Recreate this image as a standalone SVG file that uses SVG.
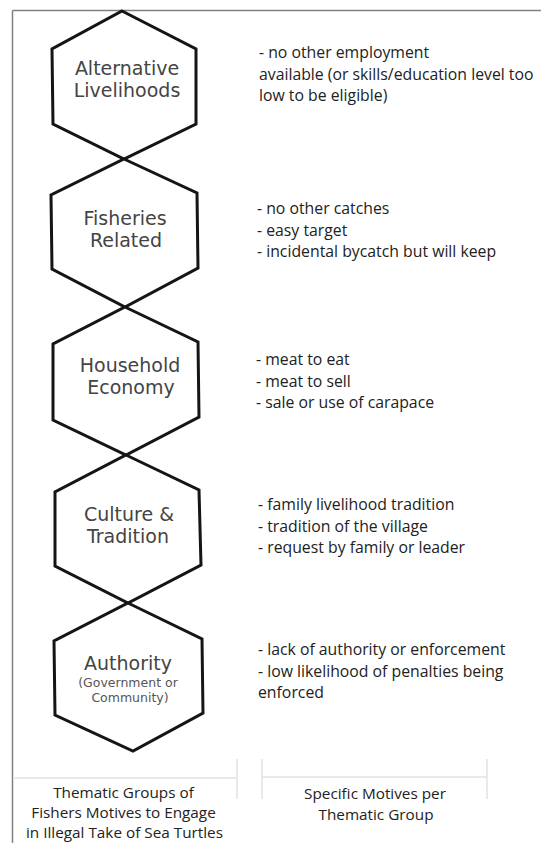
<svg xmlns="http://www.w3.org/2000/svg" width="541" height="843" viewBox="0 0 541 843">
<style>
.hex{fill:#fff;stroke:#151515;stroke-width:3;stroke-linejoin:miter}
.ht{font-family:"DejaVu Sans",sans-serif;font-size:19px;fill:#444;text-anchor:middle}
.hs{font-family:"DejaVu Sans",sans-serif;font-size:12.5px;fill:#555;text-anchor:middle}
.mt{font-family:"Open Sans","Liberation Sans",sans-serif;font-size:15.8px;fill:#222}
.bt{font-family:"Open Sans","Liberation Sans",sans-serif;font-size:15.3px;fill:#222;text-anchor:middle}
.frame{stroke:#808080;stroke-width:1.5;fill:none}
.brk{stroke:#e2e2e2;stroke-width:1.5;fill:none}
</style>
<rect width="541" height="843" fill="#fff"/>
<g id="frame">
<path class="frame" d="M12.5 10.5 H541 M12.5 10.5 V843"/>
<path class="brk" d="M13 778 H237 M237 759 V799"/>
<path class="brk" d="M262 777 H487 M262 759 V799 M487 759 V799"/>
</g>
<g id="connectors"></g>
<g id="hex-alternative">
<polygon class="hex" points="122,11 196,49 196,124 124,159 53,124 52,49"/>
<text class="ht" x="127" y="75">Alternative</text>
<text class="ht" x="127" y="97">Livelihoods</text>
</g>
<g id="hex-fisheries">
<polygon class="hex" points="124,159 197,193 198,268 125,307 52,269 51,195"/>
<text class="ht" x="125" y="225">Fisheries</text>
<text class="ht" x="126" y="247">Related</text>
</g>
<g id="hex-household">
<polygon class="hex" points="125,307 198,342 199,417 126,455 53,420 53,344"/>
<text class="ht" x="130" y="372">Household</text>
<text class="ht" x="131" y="394">Economy</text>
</g>
<g id="hex-culture">
<polygon class="hex" points="126,455 199,490 201,565 128,603 55,566 55,492"/>
<text class="ht" x="129" y="521">Culture &amp;</text>
<text class="ht" x="128" y="543">Tradition</text>
</g>
<g id="hex-authority">
<polygon class="hex" points="128,603 202,639 203,713 133,751 55,715 54,641"/>
<text class="ht" x="128" y="670">Authority</text>
<text class="hs" x="128" y="687">(Government or</text>
<text class="hs" x="130" y="702">Community)</text>
</g>
<g id="motives-alternative">
<text class="mt" x="259" y="58">- no other employment</text>
<text class="mt" x="259" y="79.5">available (or skills/education level too</text>
<text class="mt" x="259" y="101">low to be eligible)</text>
</g>
<g id="motives-fisheries">
<text class="mt" x="257" y="214">- no other catches</text>
<text class="mt" x="257" y="235.5">- easy target</text>
<text class="mt" x="257" y="257">- incidental bycatch but will keep</text>
</g>
<g id="motives-household">
<text class="mt" x="256" y="365">- meat to eat</text>
<text class="mt" x="256" y="386.5">- meat to sell</text>
<text class="mt" x="256" y="408">- sale or use of carapace</text>
</g>
<g id="motives-culture">
<text class="mt" x="258" y="510">- family livelihood tradition</text>
<text class="mt" x="258" y="531.5">- tradition of the village</text>
<text class="mt" x="258" y="553">- request by family or leader</text>
</g>
<g id="motives-authority">
<text class="mt" x="258" y="655">- lack of authority or enforcement</text>
<text class="mt" x="258" y="676.5">- low likelihood of penalties being</text>
<text class="mt" x="258" y="698">enforced</text>
</g>
<g id="label-left">
<text class="bt" x="123.5" y="798">Thematic Groups of</text>
<text class="bt" x="123.5" y="818">Fishers Motives to Engage</text>
<text class="bt" x="124.5" y="838">in Illegal Take of Sea Turtles</text>
</g>
<g id="label-right">
<text class="bt" x="375" y="799">Specific Motives per</text>
<text class="bt" x="376" y="820">Thematic Group</text>
</g>
</svg>
